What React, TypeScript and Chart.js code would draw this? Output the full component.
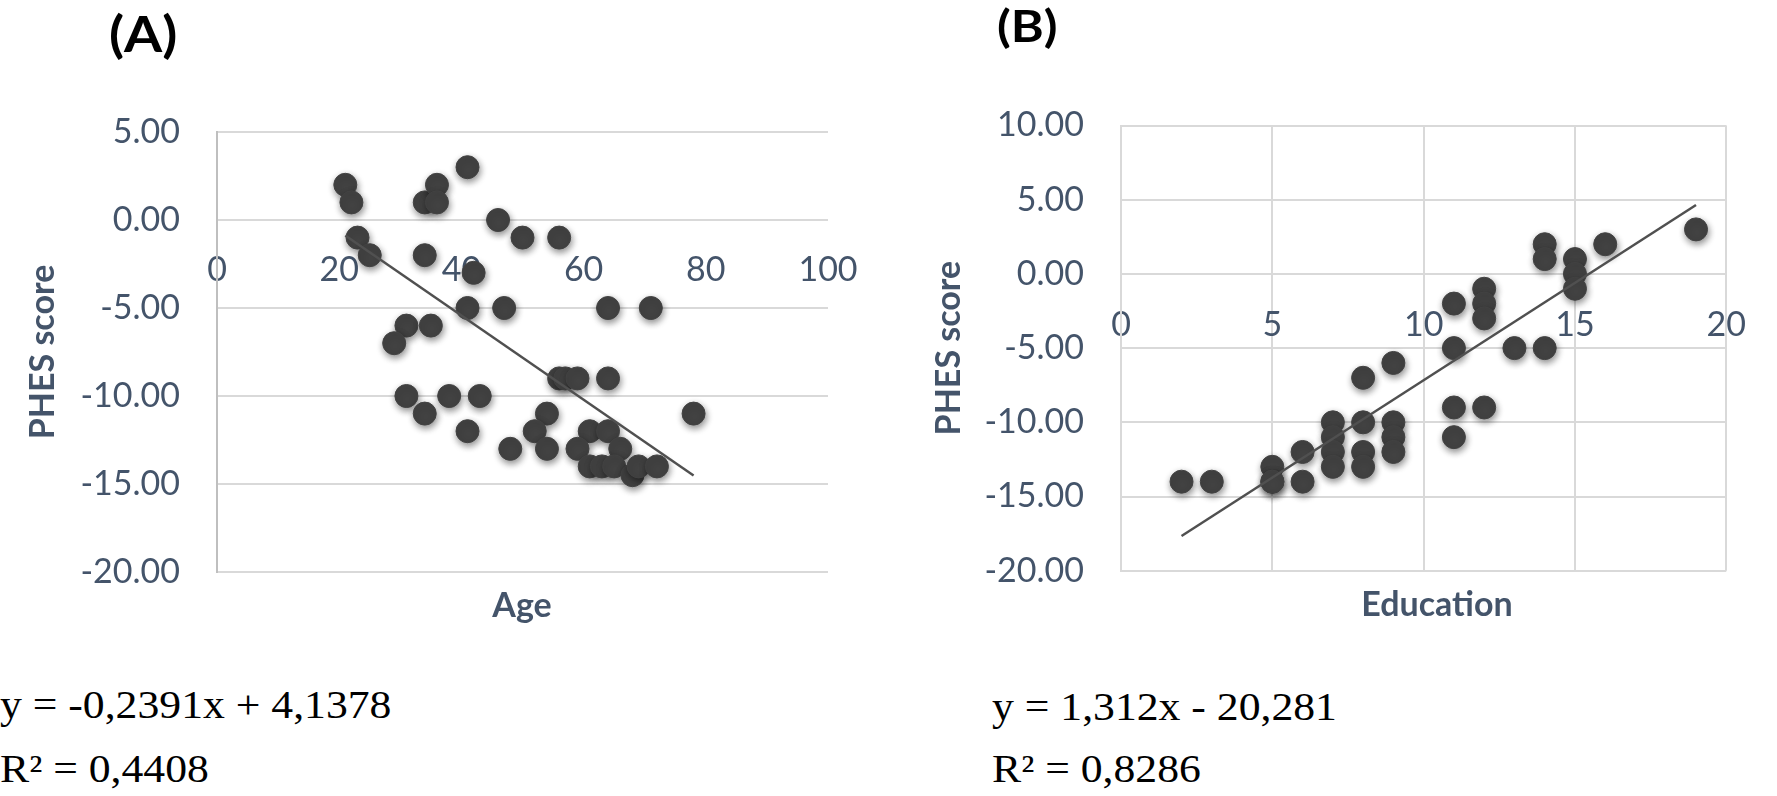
import React, { useEffect, useRef } from 'react';
import { Chart, registerables } from 'chart.js';

Chart.register(...registerables);

// ---------- Data ----------
// Panel A: Age vs PHES score
const AGE = [21, 22, 23, 25, 34, 36, 36, 34, 41, 42, 46, 50, 56, 41, 47, 64, 71, 31, 35, 29, 56, 57, 59, 64, 31, 38, 43, 34, 54, 78, 41, 52, 61, 64, 48, 54, 59, 66, 61, 63, 65, 68, 69, 72];
const PHES_A = [2, 1, -1, -2, 1, 2, 1, -2, 3, -3, 0, -1, -1, -5, -5, -5, -5, -6, -6, -7, -9, -9, -9, -9, -10, -10, -10, -11, -11, -11, -12, -12, -12, -12, -13, -13, -13, -13, -14, -14, -14, -14.5, -14, -14];
const AGE_SLOPE = -0.2391;
const AGE_INTERCEPT = 4.1378;
const EQ_A = 'y = -0,2391x + 4,1378';
const R2_A = 'R² = 0,4408';

// Panel B: Education vs PHES score
const EDU = [2, 3, 5, 5, 5, 6, 6, 7, 7, 7, 7, 8, 8, 8, 8, 9, 9, 9, 9, 11, 11, 11, 11, 12, 12, 12, 12, 13, 14, 14, 14, 15, 15, 15, 16, 19];
const PHES_B = [-14, -14, -13, -14, -14, -12, -14, -10, -11, -12, -13, -7, -10, -12, -13, -6, -10, -11, -12, -2, -5, -9, -11, -1, -2, -3, -9, -5, -5, 2, 1, 1, 0, -1, 2, 3];
const EDU_SLOPE = 1.312;
const EDU_INTERCEPT = -20.281;
const EQ_B = 'y = 1,312x - 20,281';
const R2_B = 'R² = 0,8286';

// Axis ranges / ticks
const AGE_AXIS = { min: 0, max: 100, step: 20 };
const PHES_AXIS_A = { min: -20, max: 5, step: 5 };
const EDU_AXIS = { min: 0, max: 20, step: 5 };
const PHES_AXIS_B = { min: -20, max: 10, step: 5 };

const Y_TITLE = 'PHES score';

// ---------- Styles ----------
const TEXT = '#44546A';
const GRID = '#D9D9D9';
const MARKER = '#424242';
const TREND = '#505050';
const SANS = 'Lato, "Open Sans", sans-serif';
const SERIF = '"Liberation Serif", "Times New Roman", serif';

const shadowPlugin = {
  id: 'markerShadow',
  beforeDatasetDraw(chart: any, args: any) {
    if (args.index !== 1) return;
    const ctx = chart.ctx;
    ctx.save();
    ctx.shadowColor = 'rgba(0,0,0,0.45)';
    ctx.shadowBlur = 7;
    ctx.shadowOffsetX = 1;
    ctx.shadowOffsetY = 3;
  },
  afterDatasetDraw(chart: any, args: any) {
    if (args.index !== 1) return;
    chart.ctx.restore();
  },
};

type PanelProps = {
  xs: number[];
  ys: number[];
  slope: number;
  intercept: number;
  xAxis: { min: number; max: number; step: number };
  yAxis: { min: number; max: number; step: number };
  width: number;
  height: number;
  left: number;
  pad: { top: number; right: number; bottom: number };
  yAxisWidth: number;
  yTitlePad: number;
  xTickPad: number;
  vGrid: boolean;
  yBorderColor: string;
};

function Panel(p: PanelProps) {
  const ref = useRef<HTMLCanvasElement | null>(null);
  useEffect(() => {
    if (!ref.current) return;
    const pts = p.xs.map((x, i) => ({ x, y: p.ys[i] }));
    const xMin = Math.min(...p.xs);
    const xMax = Math.max(...p.xs);
    const trend = [
      { x: xMin, y: p.slope * xMin + p.intercept },
      { x: xMax, y: p.slope * xMax + p.intercept },
    ];
    const tickFont = { family: SANS, size: 34 };
    let chart: Chart | null = new Chart(ref.current, {
      type: 'scatter',
      data: {
        datasets: [
          {
            data: trend,
            showLine: true,
            borderColor: TREND,
            borderWidth: 2.5,
            pointRadius: 0,
            fill: false,
          },
          {
            data: pts,
            backgroundColor: MARKER,
            borderColor: MARKER,
            borderWidth: 1,
            pointRadius: 11.5,
            pointHoverRadius: 11.5,
          },
        ],
      } as any,
      options: {
        animation: false,
        responsive: false,
        maintainAspectRatio: false,
        devicePixelRatio: 1,
        events: [],
        layout: { padding: { left: 0, top: p.pad.top, right: p.pad.right, bottom: p.pad.bottom } },
        plugins: {
          legend: { display: false },
          tooltip: { enabled: false },
          title: { display: false },
        },
        scales: {
          x: {
            type: 'linear',
            position: { y: 0 } as any,
            min: p.xAxis.min,
            max: p.xAxis.max,
            ticks: {
              stepSize: p.xAxis.step,
              padding: p.xTickPad,
              font: tickFont,
              color: TEXT,
              maxRotation: 0,
              autoSkip: false,
              callback: (v: any) => String(v),
            },
            grid: { display: p.vGrid, color: GRID, lineWidth: 2, drawTicks: false },
            border: { display: false },
          },
          y: {
            type: 'linear',
            position: 'left',
            min: p.yAxis.min,
            max: p.yAxis.max,
            ticks: {
              stepSize: p.yAxis.step,
              padding: 37,
              font: tickFont,
              color: TEXT,
              autoSkip: false,
              callback: (v: any) => Number(v).toFixed(2),
            },
            grid: { color: GRID, lineWidth: 2, drawTicks: false },
            border: { display: true, color: p.yBorderColor, width: 2 },
            title: {
              display: true,
              text: Y_TITLE,
              color: TEXT,
              font: { family: SANS, size: 34, weight: 'bold' },
              padding: { top: p.yTitlePad, bottom: 0 },
            },
            afterFit: (s: any) => {
              s.width = p.yAxisWidth;
            },
          },
        },
      } as any,
      plugins: [shadowPlugin],
    });
    const fonts = (document as any).fonts;
    if (fonts && fonts.load) {
      Promise.all([fonts.load('34px Lato'), fonts.load('bold 34px Lato')])
        .then(() => chart && chart.update())
        .catch(() => {});
    }
    return () => {
      chart && chart.destroy();
      chart = null;
    };
  }, []);
  return (
    <canvas
      ref={ref}
      width={p.width}
      height={p.height}
      style={{ position: 'absolute', left: p.left, top: 0, width: p.width, height: p.height }}
    />
  );
}

const absText = (extra: React.CSSProperties): React.CSSProperties => ({
  position: 'absolute',
  whiteSpace: 'nowrap',
  margin: 0,
  ...extra,
});

const eqStyle = (left: number, top: number): React.CSSProperties =>
  absText({
    left,
    top,
    fontFamily: SERIF,
    fontSize: 39,
    lineHeight: '39px',
    color: '#000',
    transform: 'scaleX(1.12)',
    transformOrigin: 'left top',
  });

export default function App() {
  return (
    <div
      style={{
        position: 'absolute',
        left: 0,
        top: 0,
        width: 1777,
        height: 796,
        background: '#ffffff',
        overflow: 'hidden',
      }}
    >
      <Panel
        xs={AGE}
        ys={PHES_A}
        slope={AGE_SLOPE}
        intercept={AGE_INTERCEPT}
        xAxis={AGE_AXIS}
        yAxis={PHES_AXIS_A}
        width={900}
        height={640}
        left={0}
        pad={{ top: 132, right: 72, bottom: 68 }}
        yAxisWidth={217}
        yTitlePad={22.6}
        xTickPad={30}
        vGrid={false}
        yBorderColor="#BFBFBF"
      />
      <Panel
        xs={EDU}
        ys={PHES_B}
        slope={EDU_SLOPE}
        intercept={EDU_INTERCEPT}
        xAxis={EDU_AXIS}
        yAxis={PHES_AXIS_B}
        width={877}
        height={640}
        left={900}
        pad={{ top: 125.5, right: 24, bottom: 69.3 }}
        yAxisWidth={221}
        yTitlePad={28.6}
        xTickPad={31}
        vGrid={true}
        yBorderColor={GRID}
      />

      <div style={absText({ left: 109, top: 7.6, fontFamily: SANS, fontWeight: 700, fontSize: 50, lineHeight: '50px', color: '#000', transform: 'scaleX(1.1)', transformOrigin: 'left top' })}>(A)</div>
      <div style={absText({ left: 996.5, top: 3, fontFamily: SANS, fontWeight: 700, fontSize: 44, lineHeight: '44px', color: '#000', transform: 'scaleX(1.14)', transformOrigin: 'left top' })}>(B)</div>

      <div style={absText({ left: 322, width: 400, textAlign: 'center', top: 584, fontFamily: SANS, fontWeight: 700, fontSize: 34, lineHeight: '40px', color: TEXT })}>Age</div>
      <div style={absText({ left: 1237, width: 400, textAlign: 'center', top: 582.5, fontFamily: SANS, fontWeight: 700, fontSize: 34, lineHeight: '40px', color: TEXT })}>Education</div>

      <div style={eqStyle(0, 685.3)}>{EQ_A}</div>
      <div style={eqStyle(0, 749.3)}>{R2_A}</div>
      <div style={eqStyle(992, 687.3)}>{EQ_B}</div>
      <div style={eqStyle(992, 749.3)}>{R2_B}</div>
    </div>
  );
}
